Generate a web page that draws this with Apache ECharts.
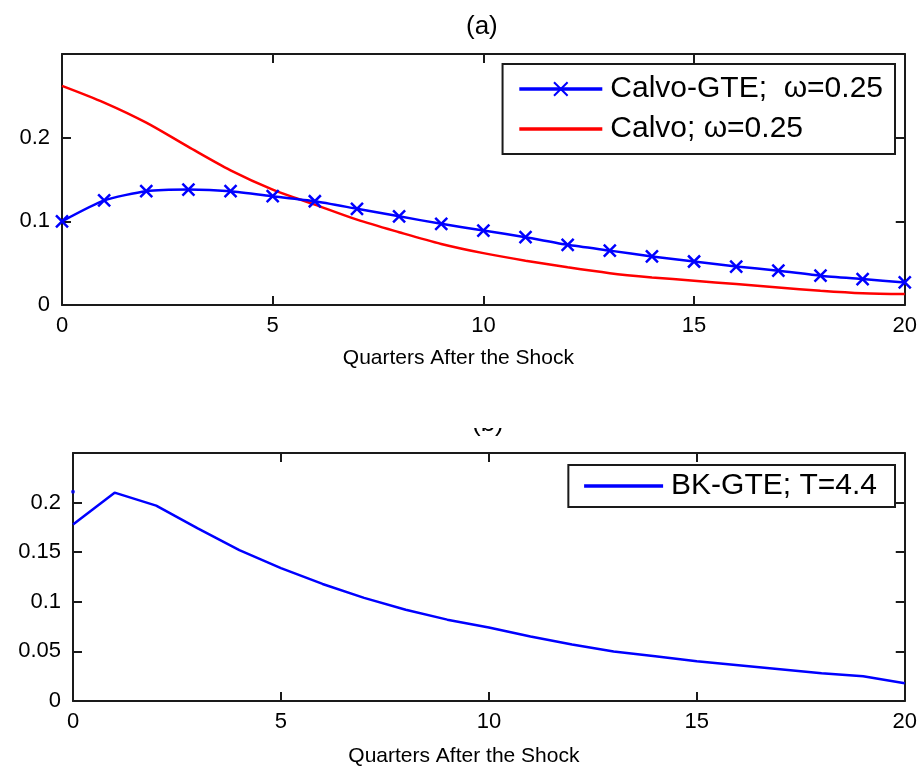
<!DOCTYPE html>
<html>
<head>
<meta charset="utf-8">
<script src="https://cdn.jsdelivr.net/npm/echarts@6/dist/echarts.min.js"></script>
<style>
  html, body { margin: 0; padding: 0; background: #ffffff; }
  #chart { width: 920px; height: 768px; }
</style>
</head>
<body>
<div id="chart"></div>
<script>
// Quarters after the shock (x values shared by both panels)
const quarters = [0, 1, 2, 3, 4, 5, 6, 7, 8, 9, 10, 11, 12, 13, 14, 15, 16, 17, 18, 19, 20];

// Panel (a)
const calvoGte = [0.100, 0.125, 0.136, 0.138, 0.136, 0.130, 0.124, 0.115, 0.106, 0.097, 0.089,
                  0.081, 0.072, 0.065, 0.058, 0.052, 0.046, 0.041, 0.035, 0.031, 0.027];
const calvo = [0.262, 0.242, 0.218, 0.189, 0.161, 0.138, 0.120, 0.102, 0.087, 0.073, 0.062,
               0.053, 0.045, 0.038, 0.033, 0.029, 0.025, 0.021, 0.017, 0.014, 0.013];

// Panel (b)
const bkGte = [0.178, 0.210, 0.197, 0.174, 0.152, 0.134, 0.118, 0.104, 0.092, 0.082, 0.074,
               0.065, 0.057, 0.050, 0.045, 0.040, 0.036, 0.032, 0.028, 0.025, 0.018];
const bkGteStartX = [0];
const bkGteStart = [0.211];

const FONT = 'Liberation Sans, Arial, sans-serif';
const AXIS_COLOR = '#1a1a1a';

function pairs(xs, ys) { return ys.map((v, i) => [xs[i], v]); }

function fmtTick(v) {
  return String(parseFloat(v.toFixed(3)));
}

function xAxes(gridIndex, nameGap) {
  const common = {
    type: 'value', gridIndex: gridIndex, min: 0, max: 20, interval: 5,
    axisLine: { show: true, onZero: false, lineStyle: { color: AXIS_COLOR, width: 2 } },
    axisTick: { show: true, inside: true, length: 9, lineStyle: { color: AXIS_COLOR, width: 2 } },
    splitLine: { show: false }
  };
  return [
    Object.assign({}, common, {
      position: 'bottom',
      name: 'Quarters After the Shock',
      nameLocation: 'middle',
      nameGap: nameGap,
      nameTextStyle: { fontFamily: FONT, fontSize: 21, color: '#000', padding: [0, 50, 0, 0] },
      axisLabel: { fontFamily: FONT, fontSize: 22, color: '#000', margin: 10 }
    }),
    Object.assign({}, common, { position: 'top', axisLabel: { show: false } })
  ];
}

function yAxes(gridIndex, max, interval) {
  const common = {
    type: 'value', gridIndex: gridIndex, min: 0, max: max, interval: interval,
    axisLine: { show: true, onZero: false, lineStyle: { color: AXIS_COLOR, width: 2 } },
    axisTick: { show: true, inside: true, length: 9, lineStyle: { color: AXIS_COLOR, width: 2 } },
    splitLine: { show: false }
  };
  return [
    Object.assign({}, common, {
      position: 'left',
      axisLabel: { fontFamily: FONT, fontSize: 22, color: '#000', margin: 12,
                   showMaxLabel: false, formatter: fmtTick }
    }),
    Object.assign({}, common, { position: 'right', axisLabel: { show: false } })
  ];
}

const xA = xAxes(0, 43);
const xB = xAxes(1, 45);
const yA = yAxes(0, 0.3, 0.1);
const yB = yAxes(1, 0.25, 0.05);

const legendText = { fontFamily: FONT, fontSize: 30, color: '#000', padding: [0, 0, 0, 3] };
// legend entries without markers keep only the line sample
const noMarker = { opacity: 0 };

const chart = echarts.init(document.getElementById('chart'), null, { renderer: 'canvas' });

chart.setOption({
  animation: false,
  backgroundColor: '#ffffff',
  grid: [
    { left: 62, right: 13, top: 54, bottom: 463 },
    { left: 73, right: 12, top: 453, bottom: 64 }
  ],
  xAxis: xA.concat(xB),
  yAxis: yA.concat(yB),
  legend: [
    {
      data: [
        { name: 'Calvo-GTE;  ω=0.25' },
        { name: 'Calvo; ω=0.25', itemStyle: noMarker }
      ],
      orient: 'vertical', right: 25, top: 64,
      itemWidth: 83, itemHeight: 17, itemGap: 10,
      padding: [10, 12, 10, 15],
      borderColor: '#1a1a1a', borderWidth: 2,
      lineStyle: { width: 3.5 },
      textStyle: legendText,
      selectedMode: false
    },
    {
      data: [{ name: 'BK-GTE; T=4.4', itemStyle: noMarker }],
      orient: 'vertical', right: 25, top: 465,
      itemWidth: 79, itemHeight: 16, itemGap: 10,
      padding: [6, 18, 6, 14],
      borderColor: '#1a1a1a', borderWidth: 2,
      lineStyle: { width: 3.5 },
      textStyle: legendText,
      selectedMode: false
    }
  ],
  graphic: [
    {
      type: 'text', left: 466, top: 14, z: 10,
      style: { text: '(a)', font: '26px ' + FONT, fill: '#000' }
    },
    {
      type: 'text', left: 472, top: 411, z: 10,
      style: { text: '(b)', font: '26px ' + FONT, fill: '#000' }
    },
    {
      // upper part of the lower title sits beyond the page edge of the lower panel
      type: 'rect', left: 440, top: 380, z: 20,
      shape: { width: 100, height: 48 },
      style: { fill: '#ffffff' }
    }
  ],
  series: [
    {
      name: 'Calvo-GTE;  ω=0.25', type: 'line',
      xAxisIndex: 0, yAxisIndex: 0,
      data: pairs(quarters, calvoGte),
      smooth: 0.2,
      symbol: 'path://M0,0L10,10M10,0L0,10', symbolSize: 12, showSymbol: true,
      lineStyle: { color: '#0000ff', width: 2.5 },
      itemStyle: { color: '#0000ff', borderColor: '#0000ff', borderWidth: 2.5 },
      emphasis: { disabled: true }, z: 3
    },
    {
      name: 'Calvo; ω=0.25', type: 'line',
      xAxisIndex: 0, yAxisIndex: 0,
      data: pairs(quarters, calvo),
      smooth: 0.3,
      showSymbol: false, symbol: 'none',
      lineStyle: { color: '#ff0000', width: 2.5 },
      itemStyle: { color: '#ff0000' },
      emphasis: { disabled: true }, z: 2
    },
    {
      name: 'BK-GTE; T=4.4', type: 'line',
      xAxisIndex: 2, yAxisIndex: 2,
      data: pairs(quarters, bkGte),
      showSymbol: false, symbol: 'none',
      lineStyle: { color: '#0000ff', width: 2.5 },
      itemStyle: { color: '#0000ff' },
      emphasis: { disabled: true }
    },
    {
      name: 'BK-GTE start', type: 'scatter',
      xAxisIndex: 2, yAxisIndex: 2,
      data: pairs(bkGteStartX, bkGteStart),
      symbol: 'circle', symbolSize: 4,
      itemStyle: { color: '#0000ff' },
      emphasis: { disabled: true }
    }
  ]
});
</script>
</body>
</html>
